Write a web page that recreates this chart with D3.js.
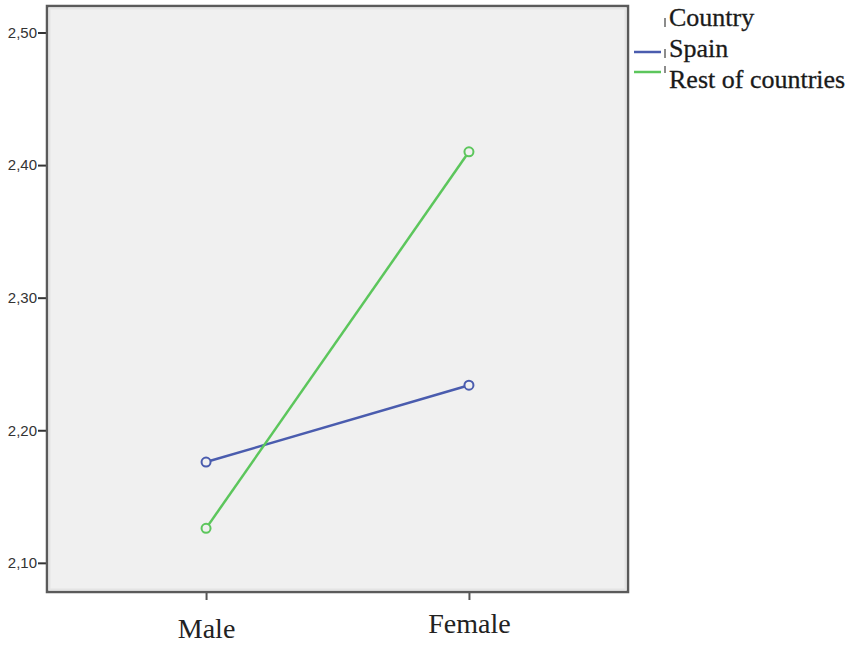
<!DOCTYPE html>
<html lang="en">
<head>
    <meta charset="UTF-8">
    <title>country-gender-means</title>
    <script src="https://cdn.jsdelivr.net/npm/d3@7"></script>
    <style>
        body { margin: 0; background: #fff; }
    </style>
</head>
<body>
<svg class="graph"></svg>
<script>
    // data
    var genders = ['Male', 'Female'];
    var countries = ['Spain', 'Rest of countries'];
    var spainValues = [2.176, 2.234];
    var restValues = [2.126, 2.410];
    var yTicks = [2.10, 2.20, 2.30, 2.40, 2.50];
    var legendTitle = 'Country';

    var colors = ['#4a5cae', '#5cc65c'];

    var width = 851, height = 647;
    var frame = {left: 47, top: 6, right: 628, bottom: 592};
    var serif = '"Liberation Serif", "Times New Roman", serif';

    var svg = d3.select('.graph')
        .attr('width', width)
        .attr('height', height);

    var x = d3.scalePoint()
        .domain(genders)
        .range([frame.left, frame.right])
        .padding(0.605);

    var y = d3.scaleLinear()
        .domain([2.078, 2.520])
        .range([frame.bottom, frame.top]);

    // plot background
    svg.append('rect')
        .attr('x', frame.left)
        .attr('y', frame.top)
        .attr('width', frame.right - frame.left)
        .attr('height', frame.bottom - frame.top)
        .attr('fill', '#f0f0f0');

    // y axis
    var yAxis = svg.append('g')
        .attr('transform', 'translate(' + frame.left + ',0)')
        .call(d3.axisLeft(y).tickValues(yTicks).tickSize(9).tickPadding(1)
            .tickFormat(function (d) { return d3.format('.2f')(d).replace('.', ','); }));
    yAxis.select('.domain').remove();
    yAxis.selectAll('.tick line').attr('stroke', '#333').attr('stroke-width', 2);
    yAxis.selectAll('.tick text')
        .style('font-family', 'Arial, "Liberation Sans", sans-serif')
        .style('font-size', '15px')
        .attr('fill', '#333');

    // x axis
    var xAxis = svg.append('g')
        .attr('transform', 'translate(0,' + frame.bottom + ')')
        .call(d3.axisBottom(x).tickSize(8).tickPadding(13));
    xAxis.select('.domain').remove();
    xAxis.selectAll('.tick line').attr('stroke', '#555').attr('stroke-width', 2);
    xAxis.selectAll('.tick text')
        .style('font-family', serif)
        .style('font-size', '28px')
        .attr('fill', '#222')
        .attr('dy', function (d, i) { return i === 0 ? '0.9em' : '0.72em'; });

    // frame
    svg.append('rect')
        .attr('x', frame.left)
        .attr('y', frame.top)
        .attr('width', frame.right - frame.left)
        .attr('height', frame.bottom - frame.top)
        .attr('fill', 'none')
        .attr('stroke', '#5a5a5a')
        .attr('stroke-width', 2.5);
    svg.append('rect')
        .attr('x', frame.left + 2.5)
        .attr('y', frame.top + 2.5)
        .attr('width', frame.right - frame.left - 5)
        .attr('height', frame.bottom - frame.top - 5)
        .attr('fill', 'none')
        .attr('stroke', '#e4e4e4')
        .attr('stroke-width', 2);

    // series
    var series = [
        {name: countries[0], values: spainValues, color: colors[0]},
        {name: countries[1], values: restValues, color: colors[1]}
    ];

    var line = d3.line()
        .x(function (d, i) { return x(genders[i]); })
        .y(function (d) { return y(d); });

    var groups = svg.append('g').selectAll('g')
        .data(series)
        .enter()
        .append('g');

    groups.append('path')
        .attr('d', function (d) { return line(d.values); })
        .attr('fill', 'none')
        .attr('stroke', function (d) { return d.color; })
        .attr('stroke-width', 2.5);

    groups.selectAll('circle')
        .data(function (d) { return d.values.map(function (v, i) { return {v: v, i: i, color: d.color}; }); })
        .enter()
        .append('circle')
        .attr('cx', function (d) { return x(genders[d.i]); })
        .attr('cy', function (d) { return y(d.v); })
        .attr('r', 4.5)
        .attr('fill', '#f0f0f0')
        .attr('stroke', function (d) { return d.color; })
        .attr('stroke-width', 2);

    // legend
    var legend = svg.append('g')
        .style('font-family', serif)
        .style('font-size', '26px')
        .attr('fill', '#1a1a1a')
        .attr('stroke', '#1a1a1a')
        .attr('stroke-width', 0.3);

    legend.append('text')
        .attr('x', 669)
        .attr('y', 26)
        .text(legendTitle);
    legend.append('line')
        .attr('x1', 665).attr('x2', 665)
        .attr('y1', 18).attr('y2', 27)
        .attr('stroke', '#666').attr('stroke-width', 1.5);

    var items = legend.selectAll('.item')
        .data(series)
        .enter()
        .append('g')
        .attr('class', 'item');

    items.append('line')
        .attr('x1', 634).attr('x2', 661)
        .attr('y1', function (d, i) { return 52 + i * 20; })
        .attr('y2', function (d, i) { return 52 + i * 20; })
        .attr('stroke', function (d) { return d.color; })
        .attr('stroke-width', 2.5);
    items.append('line')
        .attr('x1', 665).attr('x2', 665)
        .attr('y1', function (d, i) { return i === 0 ? 49 : 66; })
        .attr('y2', function (d, i) { return i === 0 ? 58 : 73; })
        .attr('stroke', '#666').attr('stroke-width', 1.5);
    items.append('text')
        .attr('x', 669)
        .attr('y', function (d, i) { return i === 0 ? 57 : 88; })
        .text(function (d) { return d.name; });
</script>
</body>
</html>
